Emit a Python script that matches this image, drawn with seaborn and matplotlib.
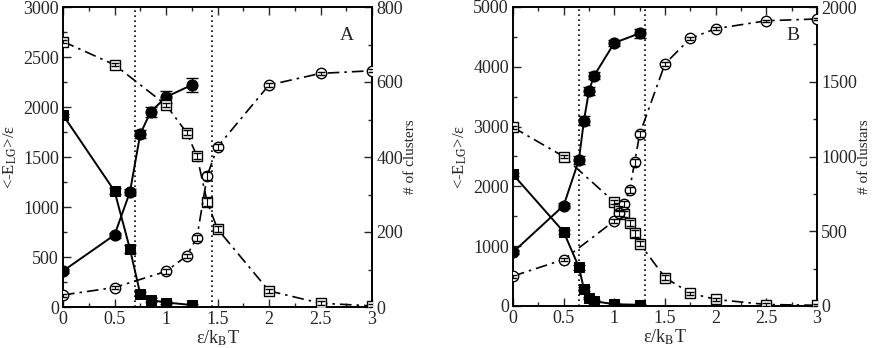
import numpy as np
import pandas as pd
import seaborn as sns
import matplotlib
matplotlib.use("Agg")
import matplotlib.pyplot as plt
from matplotlib.ticker import MultipleLocator

# ---------------- data ----------------
# Panel A
a_x_filled = [0, 0.5, 0.65, 0.75, 0.85, 1.0, 1.25]
a_energy_circ = [360, 720, 1150, 1730, 1950, 2100, 2220]
a_energy_circ_err = [20, 25, 30, 40, 50, 60, 70]
a_energy_sq = [1920, 1160, 580, 130, 70, 45, 20]
a_energy_sq_err = [15, 30, 40, 20, 20, 15, 15]
a_x_open = [0, 0.5, 1.0, 1.2, 1.3, 1.4, 1.5, 2.0, 2.5, 3.0]
a_clus_sq = [708, 646, 539, 465, 403, 280, 208, 43, 10, 3]
a_clus_circ = [32, 52, 95, 136, 185, 350, 427, 592, 623, 630]
a_clus_err = [4, 4, 6, 6, 8, 10, 8, 6, 5, 4]
a_vlines = [0.70, 1.45]

# Panel B
b_x_filled = [0, 0.5, 0.65, 0.7, 0.75, 0.8, 1.0, 1.25]
b_energy_circ = [900, 1680, 2440, 3100, 3600, 3850, 4400, 4560]
b_energy_circ_err = [30, 40, 60, 80, 70, 60, 50, 80]
b_energy_sq = [2200, 1240, 650, 285, 130, 80, 30, 20]
b_energy_sq_err = [20, 30, 40, 30, 20, 20, 15, 15]
b_x_open = [0, 0.5, 1.0, 1.05, 1.1, 1.15, 1.2, 1.25, 1.5, 1.75, 2.0, 2.5, 3.0]
b_clus_sq = [1195, 1000, 695, 655, 615, 556, 485, 418, 190, 86, 44, 10, 5]
b_clus_circ = [200, 311, 570, 619, 683, 775, 960, 1150, 1620, 1790, 1855, 1908, 1920]
b_clus_err = [10, 10, 15, 15, 20, 20, 25, 20, 15, 10, 10, 8, 8]
b_vlines = [0.65, 1.3]

# ---------------- style ----------------
sns.set_theme(style="ticks")
plt.rcParams["font.family"] = ["Liberation Serif", "DejaVu Serif"]
plt.rcParams["mathtext.fontset"] = "stix"
plt.rcParams["font.size"] = 11

fig = plt.figure(figsize=(8.72, 3.48), dpi=100)
axA = fig.add_axes([63/872, 41/348, 309/872, 300/348])
axB = fig.add_axes([513/872, 42/348, 304/872, 299/348])

dashdot = (0, (7, 3, 1.5, 3))


def draw_panel(ax, xf, ec, ece, es, ese, xo, cs, cc, ce, vlines,
               ylim_l, ylim_r, lmaj, rmaj, rlabel, letter):
    ax2 = ax.twinx()
    # filled series on left axis
    df1 = pd.DataFrame({"x": xf, "y": ec})
    df2 = pd.DataFrame({"x": xf, "y": es})
    sns.lineplot(data=df1, x="x", y="y", ax=ax, color="black", lw=1.4,
                 marker="o", ms=8, mfc="black", mec="black", zorder=3)
    sns.lineplot(data=df2, x="x", y="y", ax=ax, color="black", lw=1.4,
                 marker="s", ms=7, mfc="black", mec="black", zorder=3)
    ax.errorbar(xf, ec, yerr=ece, fmt="none", ecolor="black", elinewidth=1,
                capsize=4, zorder=4)
    ax.errorbar(xf, es, yerr=ese, fmt="none", ecolor="black", elinewidth=1,
                capsize=4, zorder=4)
    # open series on right axis
    df3 = pd.DataFrame({"x": xo, "y": cs})
    df4 = pd.DataFrame({"x": xo, "y": cc})
    sns.lineplot(data=df3, x="x", y="y", ax=ax2, color="black", lw=1.2,
                 linestyle=dashdot, marker="s", ms=6.5, mfc="white",
                 mec="black", mew=1.0, zorder=3)
    sns.lineplot(data=df4, x="x", y="y", ax=ax2, color="black", lw=1.2,
                 linestyle=dashdot, marker="o", ms=7.5, mfc="white",
                 mec="black", mew=1.0, zorder=3)
    ax2.errorbar(xo, cs, yerr=ce, fmt="none", ecolor="black", elinewidth=0.8,
                 capsize=3, zorder=4)
    ax2.errorbar(xo, cc, yerr=ce, fmt="none", ecolor="black", elinewidth=0.8,
                 capsize=3, zorder=4)
    for v in vlines:
        ax.axvline(v, color="black", ls=(0, (1, 2)), lw=1.2, zorder=2)

    ax.set_xlim(0, 3)
    ax.set_ylim(*ylim_l)
    ax2.set_ylim(*ylim_r)
    ax.xaxis.set_major_locator(MultipleLocator(0.5))
    ax.xaxis.set_minor_locator(MultipleLocator(0.25))
    ax.yaxis.set_major_locator(MultipleLocator(lmaj))
    ax.yaxis.set_minor_locator(MultipleLocator(lmaj / 2))
    ax2.yaxis.set_major_locator(MultipleLocator(rmaj))
    ax2.yaxis.set_minor_locator(MultipleLocator(rmaj / 2))
    ax.xaxis.set_major_formatter(plt.FuncFormatter(lambda v, p: f"{v:g}"))

    ax.tick_params(axis="both", which="both", direction="in", top=True,
                   right=False, labelsize=13, pad=3)
    ax.tick_params(which="major", length=6, width=1)
    ax.tick_params(which="minor", length=3, width=1)
    ax2.tick_params(axis="y", which="both", direction="in", labelsize=13, pad=3)
    ax2.tick_params(which="major", length=6, width=1)
    ax2.tick_params(which="minor", length=3, width=1)
    for sp in list(ax.spines.values()) + list(ax2.spines.values()):
        sp.set_linewidth(1.2)
        sp.set_color("black")

    ax.set_xlabel(r"ε/k$_{\rm B}$T", fontsize=13, labelpad=0)
    ax.set_ylabel(r"<-E$_{\rm LG}$>/ε", fontsize=12, labelpad=3)
    ax2.set_ylabel(rlabel, fontsize=11, labelpad=0.5)
    ax.text(0.92, 0.905, letter, transform=ax.transAxes, fontsize=14,
            ha="center", va="center")
    ax.patch.set_visible(False)
    return ax2


draw_panel(axA, a_x_filled, a_energy_circ, a_energy_circ_err, a_energy_sq,
           a_energy_sq_err, a_x_open, a_clus_sq, a_clus_circ, a_clus_err,
           a_vlines, (0, 3000), (0, 800), 500, 200, "# of clusters", "A")
draw_panel(axB, b_x_filled, b_energy_circ, b_energy_circ_err, b_energy_sq,
           b_energy_sq_err, b_x_open, b_clus_sq, b_clus_circ, b_clus_err,
           b_vlines, (0, 5000), (0, 2000), 1000, 500, "# of clustars", "B")

fig.savefig("out.png", dpi=100)
